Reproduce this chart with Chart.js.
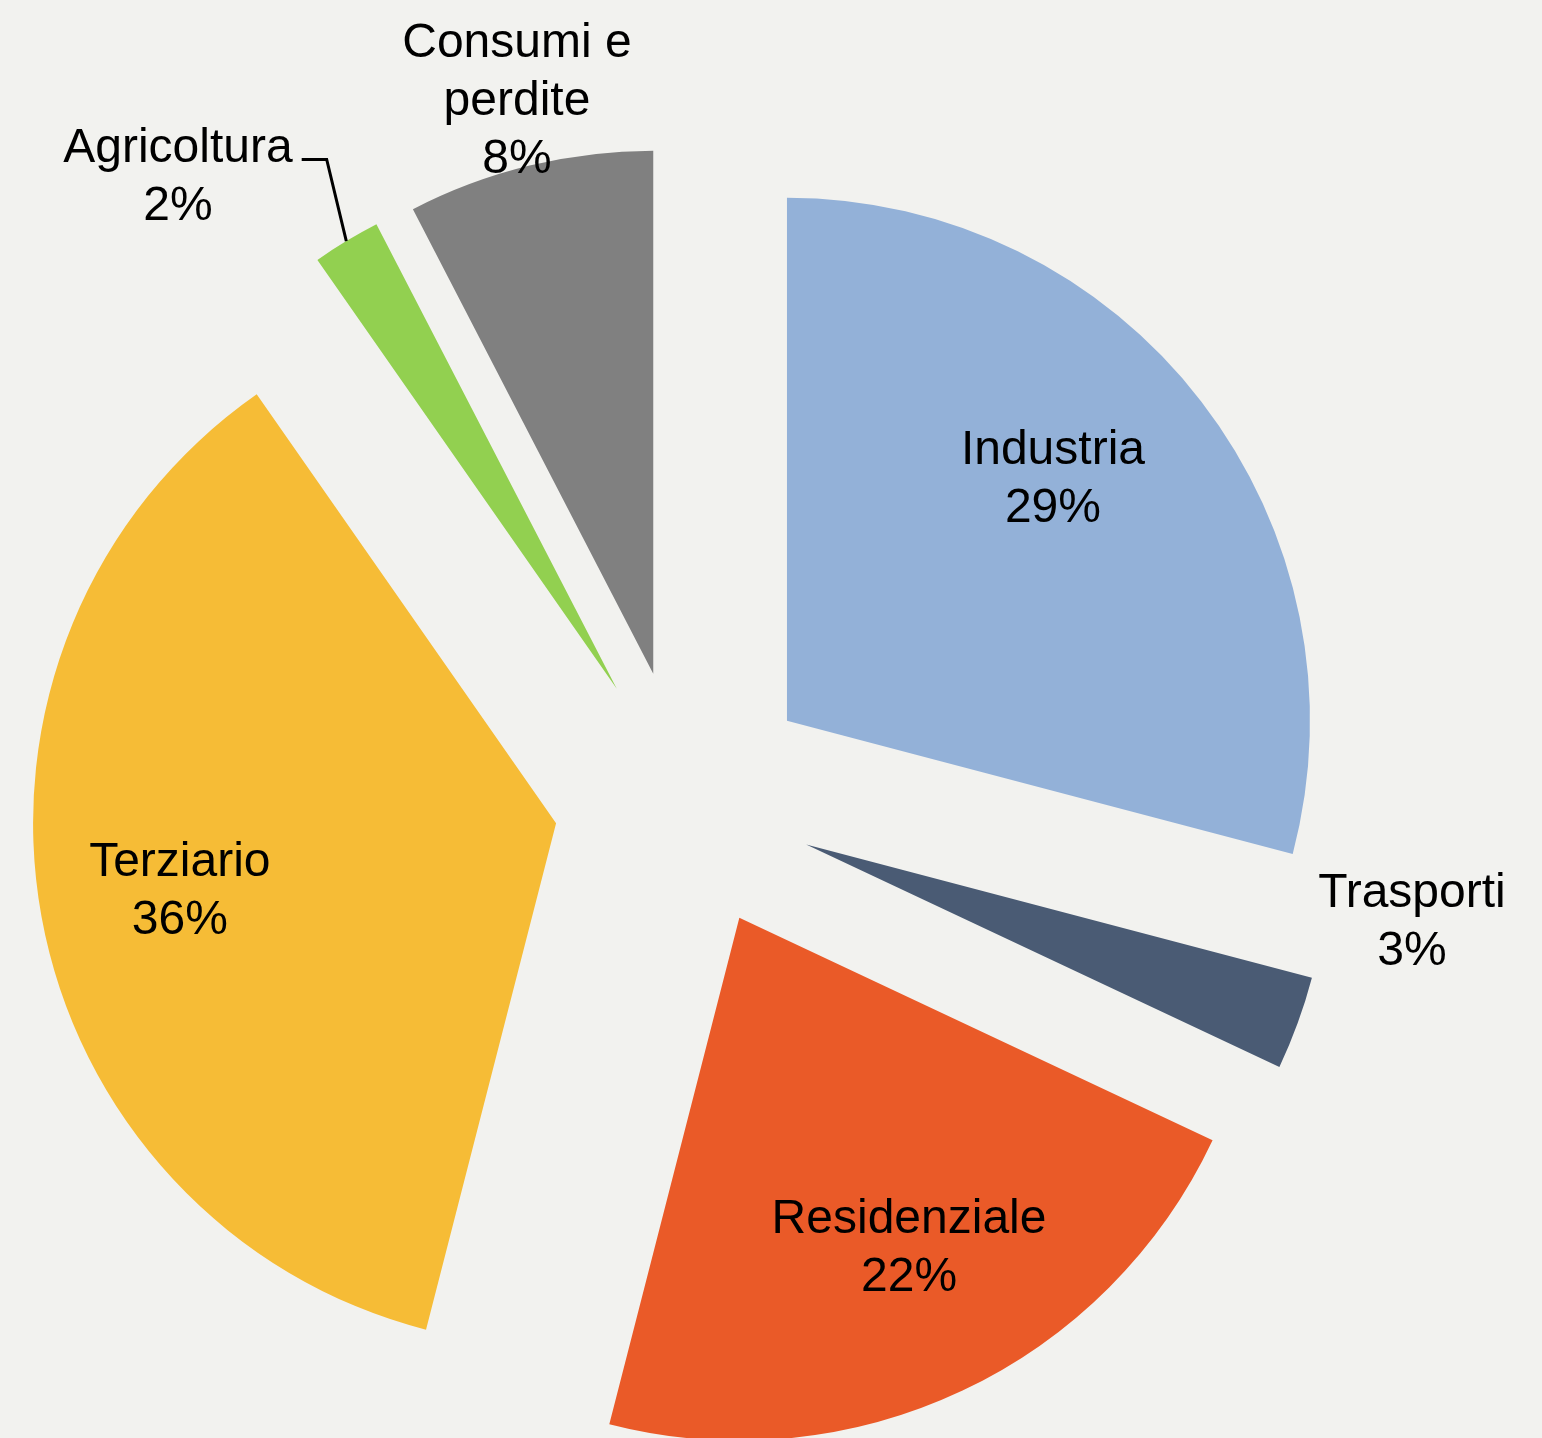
<!DOCTYPE html>
<html lang="it">
<head>
<meta charset="utf-8">
<title>Consumi per settore</title>
<script src="https://cdn.jsdelivr.net/npm/chart.js@4.4.1/dist/chart.umd.min.js"></script>
<style>
  html, body { margin: 0; padding: 0; background: #f2f2ef; }
  #wrap { position: relative; width: 1542px; height: 1438px; }
</style>
</head>
<body>
<div id="wrap"><canvas id="chart"></canvas></div>
<script>
// Data (shares in %), clockwise from 12 o'clock
const sectors = ['Industria', 'Trasporti', 'Residenziale', 'Terziario', 'Agricoltura', 'Consumi e perdite'];
const shares = [29.1, 2.9, 22.0, 36.3, 2.1, 7.6];
const sliceColors = ['#93b1d8', '#4a5b74', '#ea5a28', '#f6bc36', '#92d050', '#808080'];
// how the labels wrap, like the original
const labelLines = [['Industria'], ['Trasporti'], ['Residenziale'], ['Terziario'], ['Agricoltura'], ['Consumi e', 'perdite']];

// label placement relative to each exploded slice: fraction of radius, turn (deg) off mid-angle
const labelRadius = [0.691, 1.167, 0.705, 0.73, 1.294, 1.132];
const labelTurn = [-4.99, -12.96, -2.2, 0.48, -9.28, 0.37];
const leaderIndex = 4; // Agricoltura gets a leader line
const EXPLODE = 130;
const LINE_H = 58;
const FONT = '48px "Liberation Sans", Arial, sans-serif';

// push every slice outward along its mid-angle (uniform explosion, no radius growth)
const explode = {
  id: 'explode',
  afterDatasetsUpdate(chart) {
    const { left, right, top, bottom } = chart.chartArea;
    const cx = (left + right) / 2, cy = (top + bottom) / 2;
    chart.getDatasetMeta(0).data.forEach((arc) => {
      const mid = (arc.startAngle + arc.endAngle) / 2;
      arc.x = cx + Math.cos(mid) * EXPLODE;
      arc.y = cy + Math.sin(mid) * EXPLODE;
    });
  },
};

const sliceLabels = {
  id: 'sliceLabels',
  afterDatasetsDraw(chart) {
    const { ctx } = chart;
    const total = shares.reduce((a, b) => a + b, 0);
    ctx.save();
    ctx.font = FONT;
    ctx.fillStyle = '#000';
    ctx.textAlign = 'center';
    ctx.textBaseline = 'alphabetic';
    chart.getDatasetMeta(0).data.forEach((arc, i) => {
      const mid = (arc.startAngle + arc.endAngle) / 2;
      const a = mid + labelTurn[i] * Math.PI / 180;
      const r = arc.outerRadius * labelRadius[i];
      const x = arc.x + Math.cos(a) * r;
      const y = arc.y + Math.sin(a) * r;
      const lines = [...labelLines[i], Math.round(shares[i] / total * 100) + '%'];
      lines.forEach((t, k) => {
        const my = y + (k - (lines.length - 1) / 2) * LINE_H;
        ctx.fillText(t, x, my + 17);
      });
      if (i === leaderIndex) {
        const w = ctx.measureText(lines[0]).width;
        const y0 = y - (lines.length - 1) / 2 * LINE_H + 15;
        const x0 = x + w / 2 + 9;
        ctx.beginPath();
        ctx.moveTo(x0, y0);
        ctx.lineTo(x0 + 25, y0);
        ctx.lineTo(arc.x + Math.cos(mid) * arc.outerRadius, arc.y + Math.sin(mid) * arc.outerRadius);
        ctx.lineWidth = 3;
        ctx.strokeStyle = '#000';
        ctx.stroke();
      }
    });
    ctx.restore();
  },
};

new Chart(document.getElementById('chart'), {
  type: 'pie',
  data: {
    labels: sectors,
    datasets: [{
      data: shares,
      backgroundColor: sliceColors,
      borderWidth: 0,
      radius: 523,
    }],
  },
  options: {
    responsive: true,
    maintainAspectRatio: false,
    animation: false,
    events: [],
    layout: { padding: { left: 0, right: 174, top: 162, bottom: 0 } },
    plugins: {
      legend: { display: false },
      tooltip: { enabled: false },
    },
  },
  plugins: [explode, sliceLabels],
});
</script>
</body>
</html>
